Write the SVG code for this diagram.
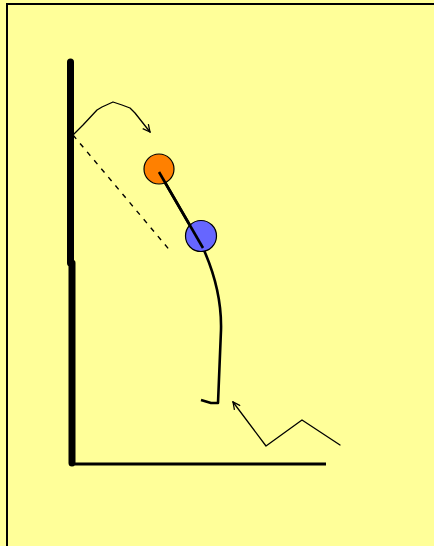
<svg xmlns="http://www.w3.org/2000/svg" width="434" height="546" viewBox="0 0 434 546">
<defs>
<style>
.thin{fill:none;stroke:#000;stroke-width:1.3;stroke-linejoin:round;stroke-linecap:round}
.ball{stroke:#000;stroke-width:1.2}
</style>
<marker id="ah" viewBox="0 0 10 10" refX="9" refY="5" markerWidth="9" markerHeight="9" markerUnits="userSpaceOnUse" orient="auto">
<path d="M1,1 L9,5 L1,9" fill="none" stroke="#000" stroke-width="1.4"/>
</marker>
</defs>
<rect x="0" y="0" width="434" height="546" fill="#FFFF99"/>
<path d="M7,546 V4 H434" fill="none" stroke="#000" stroke-width="2"/>
<g id="wall">
<line x1="70.5" y1="62" x2="70.5" y2="263" stroke="#000" stroke-width="7" stroke-linecap="round"/>
<line x1="72" y1="263" x2="72" y2="463" stroke="#000" stroke-width="7" stroke-linecap="round"/>
</g>
<g id="floor">
<line x1="75" y1="464" x2="326" y2="464" stroke="#000" stroke-width="3"/>
</g>
<g id="connectors">
<line x1="73" y1="135" x2="172" y2="253" fill="none" stroke="#000" stroke-width="1.4" stroke-dasharray="5,6"/>
<path class="thin" d="M73,135 L83,125 L97,110 L102,107 L113,102 L122,105 L130,108 L135,113 L150,132" marker-end="url(#ah)"/>
<path class="thin" d="M340,445 L302,420 L266,446 L233,402" marker-end="url(#ah)"/>
<path d="M159,172 L203,248 Q222,290 221,330 L218,403 L211,403 L201,400" fill="none" stroke="#000" stroke-width="2.6" stroke-linejoin="round"/>
</g>
<g id="orange-ball">
<circle class="ball" cx="159" cy="169" r="15" fill="#FF8000"/>
</g>
<g id="blue-ball">
<circle class="ball" cx="201" cy="236" r="15.5" fill="#6666FF"/>
</g>
<g id="rod">
<line x1="159" y1="172" x2="203" y2="248" stroke="#000" stroke-width="2.6"/>
</g>
</svg>
